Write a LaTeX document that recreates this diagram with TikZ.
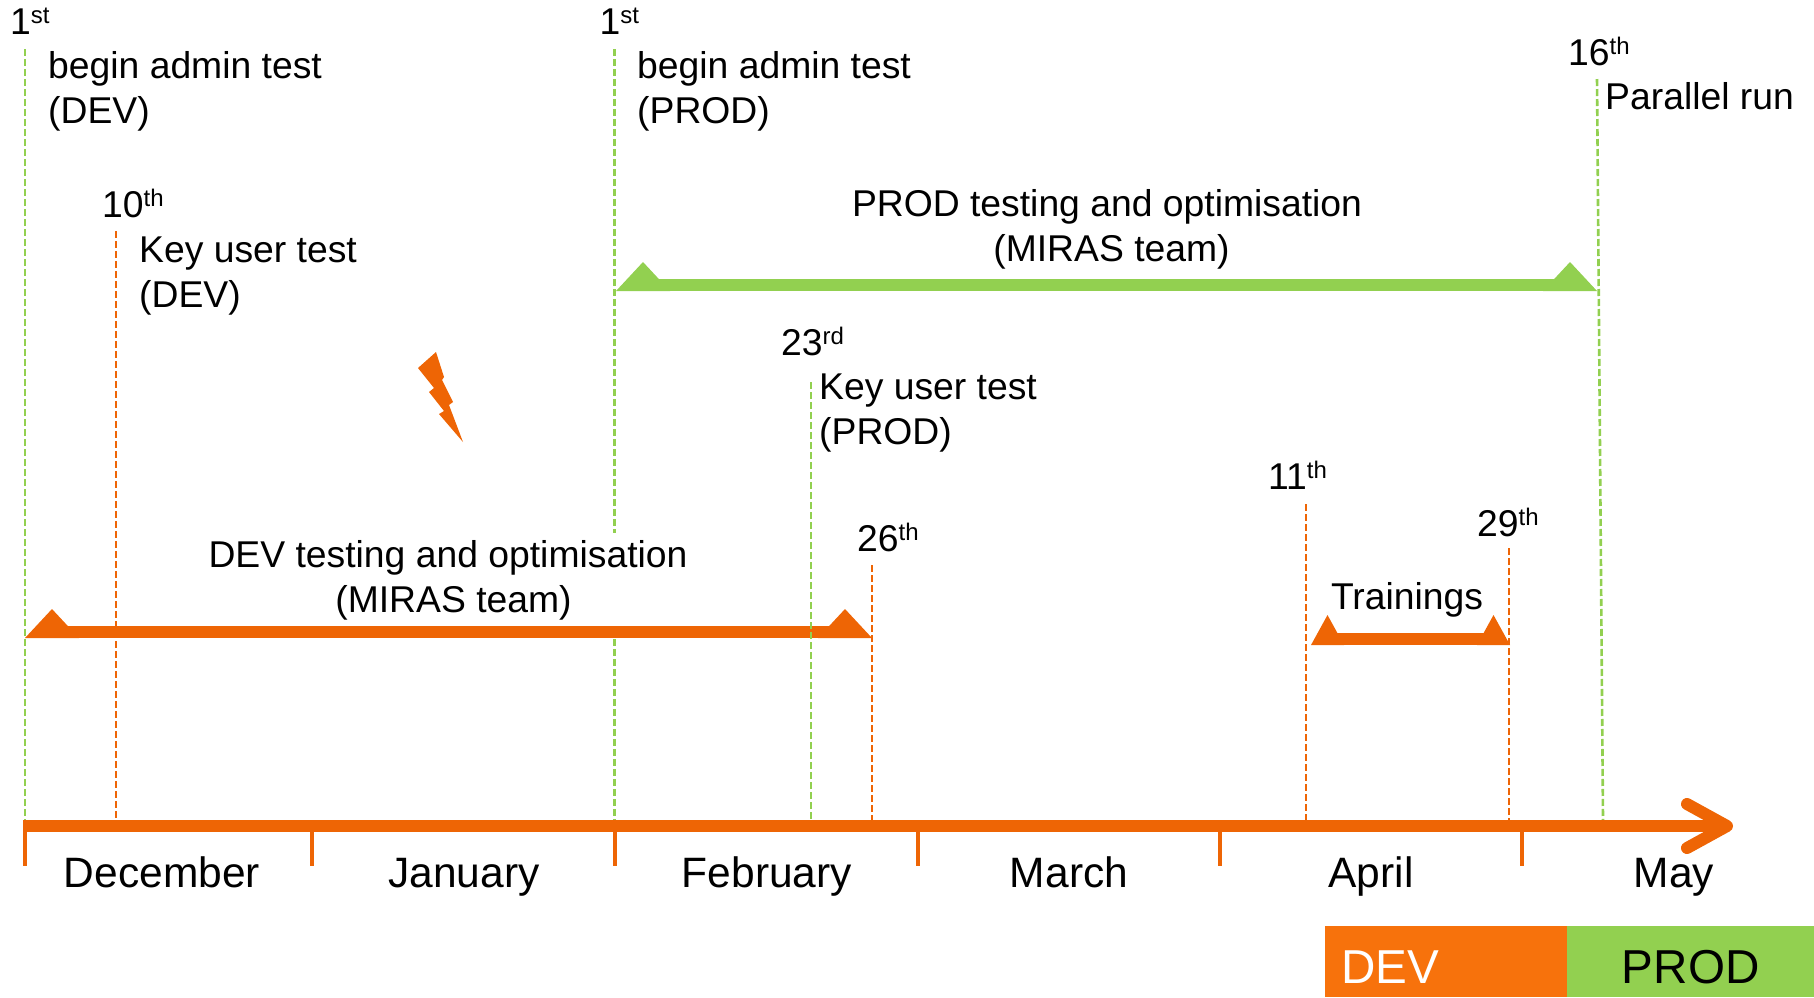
\documentclass[tikz,border=0pt]{standalone}
\usepackage{fontspec}
\usetikzlibrary{arrows.meta}
\setmainfont{Liberation Sans}
\definecolor{devline}{HTML}{EE6505}
\definecolor{devfill}{HTML}{F7720C}
\definecolor{prodgreen}{HTML}{92D050}
\newcommand{\ord}[1]{\raisebox{11pt}{\fontsize{24}{24}\selectfont #1}}
\tikzset{
    eventtext/.style={anchor=base west, inner sep=0pt, align=left, font=\fontsize{37.3}{45}\selectfont},
    spantext/.style={anchor=base, inner sep=0pt, align=center, font=\fontsize{37.3}{45}\selectfont},
    monthname/.style={anchor=base, inner sep=0pt, font=\fontsize{42.5}{50}\selectfont},
    legendbox/.style={anchor=north west, minimum height=71pt, inner sep=0pt, text height=43pt, text depth=0pt, font=\fontsize{47.6}{50}\selectfont},
    datemark/.style={line width=2.6pt, dash pattern=on 7pt off 3pt},
    axisline/.style={line width=12pt, draw=devline}
}
\begin{document}
\begin{tikzpicture}[x=1pt, y=-1pt]
        \useasboundingbox (0,0) rectangle (1814,997);

        % Marker behind the text
        \coordinate (febtop) at (614.5,49);
        \coordinate (febbot) at (614.5,820);
        \draw[datemark, prodgreen] (febtop) -- (febbot);
        \node[spantext, fill=white, inner ysep=7pt] (devspan) at (448,612) {DEV testing and optimisation\\\hspace{11pt}(MIRAS team)};

        % Spans
        \foreach \name/\xa/\xb/\ybase/\h/\w/\col in {
            devbar/52/845/638/29/27/devline,
            prodbar/643/1570/291/29/27/prodgreen,
            trainbar/1327.5/1493.5/645/30/16.5/devline%
            } {
            \coordinate (\name a) at (\xa,\ybase-6);
            \coordinate (\name b) at (\xb,\ybase-6);
            \draw[line width=12pt, \col] (\name a) -- (\name b);
            \fill[\col] (\name a) ++(-\w,6) -- ++(\w,-\h) -- ++(\w,\h) -- cycle;
            \fill[\col] (\name b) ++(\w,6) -- ++(-\w,-\h) -- ++(-\w,\h) -- cycle;
        }

        % Markers
        \foreach \name/\xtop/\ytop/\xbot/\col in {
            decstart/25/49/25/prodgreen,
            dectest/116/231/116/devline,
            febend/872/565/872/devline,
            aprstart/1306/504/1306/devline,
            aprend/1509/548/1509/devline,
            parallel/1597/79/1603/prodgreen,
            febtest/811/382/811/prodgreen%
            } {
            \coordinate (\name top) at (\xtop,\ytop);
            \coordinate (\name bot) at (\xbot,820);
            \draw[datemark, \col] (\name top) -- (\name bot);
        }

        % Axis
        \coordinate (axisstart) at (23,826);
        \coordinate (axisend) at (1733,826);
        \draw[axisline, -{Straight Barb[length=40pt, width=44pt, line width=12pt, round]}] (axisstart) -- (axisend);
        \foreach \name/\x in {t1/25, t2/312, t3/614.5, t4/917.5, t5/1219.5, t6/1521.5} {
            \coordinate (\name a) at (\x,826);
            \coordinate (\name b) at (\x,866);
            \draw[line width=4pt, devline] (\name a) -- (\name b);
        }
        \foreach \name/\x/\val in {
            mdec/162/December,
            mjan/464/January,
            mfeb/767/February,
            mmar/1069/March,
            mapr/1371/April,
            mmay/1674/May%
            } {
            \node[monthname] (\name) at (\x,887) {\val};
        }

        % Dates
        \foreach \name/\x/\y/\val in {
            d1/10/34/1\ord{st},
            d2/599.5/34/1\ord{st},
            d3/102/217/10\ord{th},
            d4/781/355/23\ord{rd},
            d5/857/551/26\ord{th},
            d6/1268/489/11\ord{th},
            d7/1477/536/29\ord{th},
            d8/1568/65/16\ord{th}%
            } {
            \node[eventtext] (\name) at (\x,\y) {\val};
        }

        % Labels
        \node[eventtext] (admindev) at (48,123) {begin admin test\\(DEV)};
        \node[eventtext] (adminprod) at (637,123) {begin admin test\\(PROD)};
        \node[eventtext] (keydev) at (139,307) {Key user test\\(DEV)};
        \node[eventtext] (keyprod) at (819,444) {Key user test\\(PROD)};
        \node[eventtext] (parrun) at (1605,109) {Parallel run};
        \node[spantext] (prodspan) at (1107,261) {PROD testing and optimisation\\\hspace{9pt}(MIRAS team)};
        \node[spantext] (trainspan) at (1407,609) {Trainings};

        % Bolt
        \fill[devline] (436,352) -- (444,377) -- (442,380) -- (453,402) -- (449,405) -- (463,442)
            -- (439,414) -- (444,411) -- (429,392) -- (434,388) -- (418,368) -- cycle;

        % Legend
        \node[legendbox, fill=devfill, text=white, minimum width=242pt, text width=209.4pt, align=left] (legdev) at (1325,926) {DEV};
        \node[legendbox, fill=prodgreen, minimum width=247pt] (legprod) at (1567,926) {PROD};
    \end{tikzpicture}
\end{document}
